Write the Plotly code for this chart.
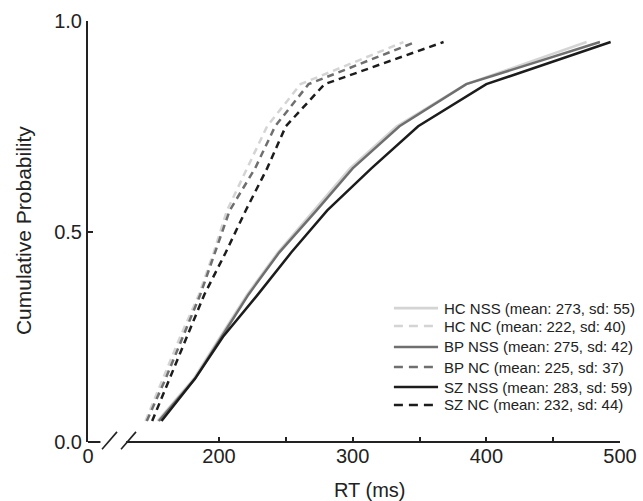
import plotly.graph_objects as go

# ---- data ----
PROB = [0.05, 0.15, 0.25, 0.35, 0.45, 0.55, 0.65, 0.75, 0.85, 0.95]
HC_NSS = [154, 181, 201, 221, 244, 271, 298, 333, 385, 475]
HC_NC = [145, 158, 171, 185, 196, 206, 221, 236, 261, 338]
BP_NSS = [155, 182, 202, 222, 245, 273, 300, 335, 385, 485]
BP_NC = [146, 160, 173, 186, 197, 208, 227, 242, 267, 347]
SZ_NSS = [157, 182, 203, 229, 254, 281, 314, 349, 400, 493]
SZ_NC = [150, 163, 176, 189, 205, 220, 236, 250, 279, 368]

LABELS = [
    "HC NSS (mean: 273, sd: 55)",
    "HC NC (mean: 222, sd: 40)",
    "BP NSS (mean: 275, sd: 42)",
    "BP NC (mean: 225, sd: 37)",
    "SZ NSS (mean: 283, sd: 59)",
    "SZ NC (mean: 232, sd: 44)",
]
SERIES = [HC_NSS, HC_NC, BP_NSS, BP_NC, SZ_NSS, SZ_NC]

X_TICKVALS = [102, 200, 250, 300, 350, 400, 450, 500]
X_TICKTEXT = ["0", "200", "", "300", "", "400", "", "500"]
Y_TICKVALS = [0, 0.5, 1.0]
Y_TICKTEXT = ["0.0", "0.5", "1.0"]

# ---- styles ----
COLORS = ["#d4d4d4", "#d4d4d4", "#6f6f6f", "#6f6f6f", "#1c1c1c", "#1c1c1c"]
DASHES = ["solid", "7px,5px", "solid", "7px,5px", "solid", "7px,5px"]
FONT = "Liberation Sans, Arial, sans-serif"
AX = "#222222"

fig = go.Figure()
for vals, col, dash, lab in zip(SERIES, COLORS, DASHES, LABELS):
    fig.add_trace(go.Scatter(
        x=vals, y=PROB, mode="lines", name=lab, showlegend=False,
        line=dict(color=col, width=2.5, dash=dash), cliponaxis=False,
        hoverinfo="skip",
    ))

shapes = []
# broken x axis line
shapes.append(dict(type="line", xref="x", yref="paper", x0=102, x1=111.3, y0=0, y1=0,
                   line=dict(color=AX, width=2)))
shapes.append(dict(type="line", xref="x", yref="paper", x0=130.5, x1=500, y0=0, y1=0,
                   line=dict(color=AX, width=2)))
# break slashes
for xa in (112.5, 126.7):
    shapes.append(dict(type="line", xref="x", yref="paper", x0=xa, x1=xa + 11.2,
                       y0=-0.017, y1=0.024, line=dict(color=AX, width=1.6)))

# manual legend
LEG_Y = [0.318, 0.2755, 0.2257, 0.178, 0.1306, 0.0879]
annotations = []
for lab, col, dash, ly in zip(LABELS, COLORS, DASHES, LEG_Y):
    shapes.append(dict(type="line", xref="paper", yref="paper", x0=0.575, x1=0.658,
                       y0=ly, y1=ly, line=dict(color=col, width=2.6,
                                                dash="solid" if dash == "solid" else "9px,6px")))
    annotations.append(dict(xref="paper", yref="paper", x=0.666, y=ly, text=lab,
                            showarrow=False, xanchor="left", yanchor="middle",
                            font=dict(family=FONT, size=15, color=AX)))

annotations.append(dict(xref="paper", yref="paper", x=0.530, y=0, yshift=-48, text="RT (ms)",
                        showarrow=False, xanchor="center", yanchor="middle",
                        font=dict(family=FONT, size=20, color=AX)))
annotations.append(dict(xref="paper", yref="paper", x=0, xshift=-65, y=0.501,
                        text="Cumulative Probability", textangle=-90,
                        showarrow=False, xanchor="center", yanchor="middle",
                        font=dict(family=FONT, size=21, color=AX)))

fig.update_layout(
    width=643, height=501,
    margin=dict(l=88, r=23, t=21, b=59, pad=0, autoexpand=False),
    paper_bgcolor="white", plot_bgcolor="white",
    showlegend=False, hovermode=False,
    shapes=shapes, annotations=annotations,
    xaxis=dict(range=[102, 500], tickvals=X_TICKVALS, ticktext=X_TICKTEXT,
               ticks="inside", ticklen=5, tickwidth=2, tickcolor=AX,
               showline=False, showgrid=False, zeroline=False, automargin=False,
               tickfont=dict(family=FONT, size=20, color=AX)),
    yaxis=dict(range=[0, 1], tickvals=Y_TICKVALS, ticktext=Y_TICKTEXT,
               ticks="inside", ticklen=5, tickwidth=2, tickcolor=AX,
               showline=True, linewidth=2, linecolor=AX, automargin=False,
               showgrid=False, zeroline=False,
               tickfont=dict(family=FONT, size=20, color=AX)),
)

fig.write_html(
    "out.html",
    config={"displayModeBar": False, "staticPlot": True},
    post_script="document.body.style.margin='0';document.body.style.overflow='hidden';",
)
